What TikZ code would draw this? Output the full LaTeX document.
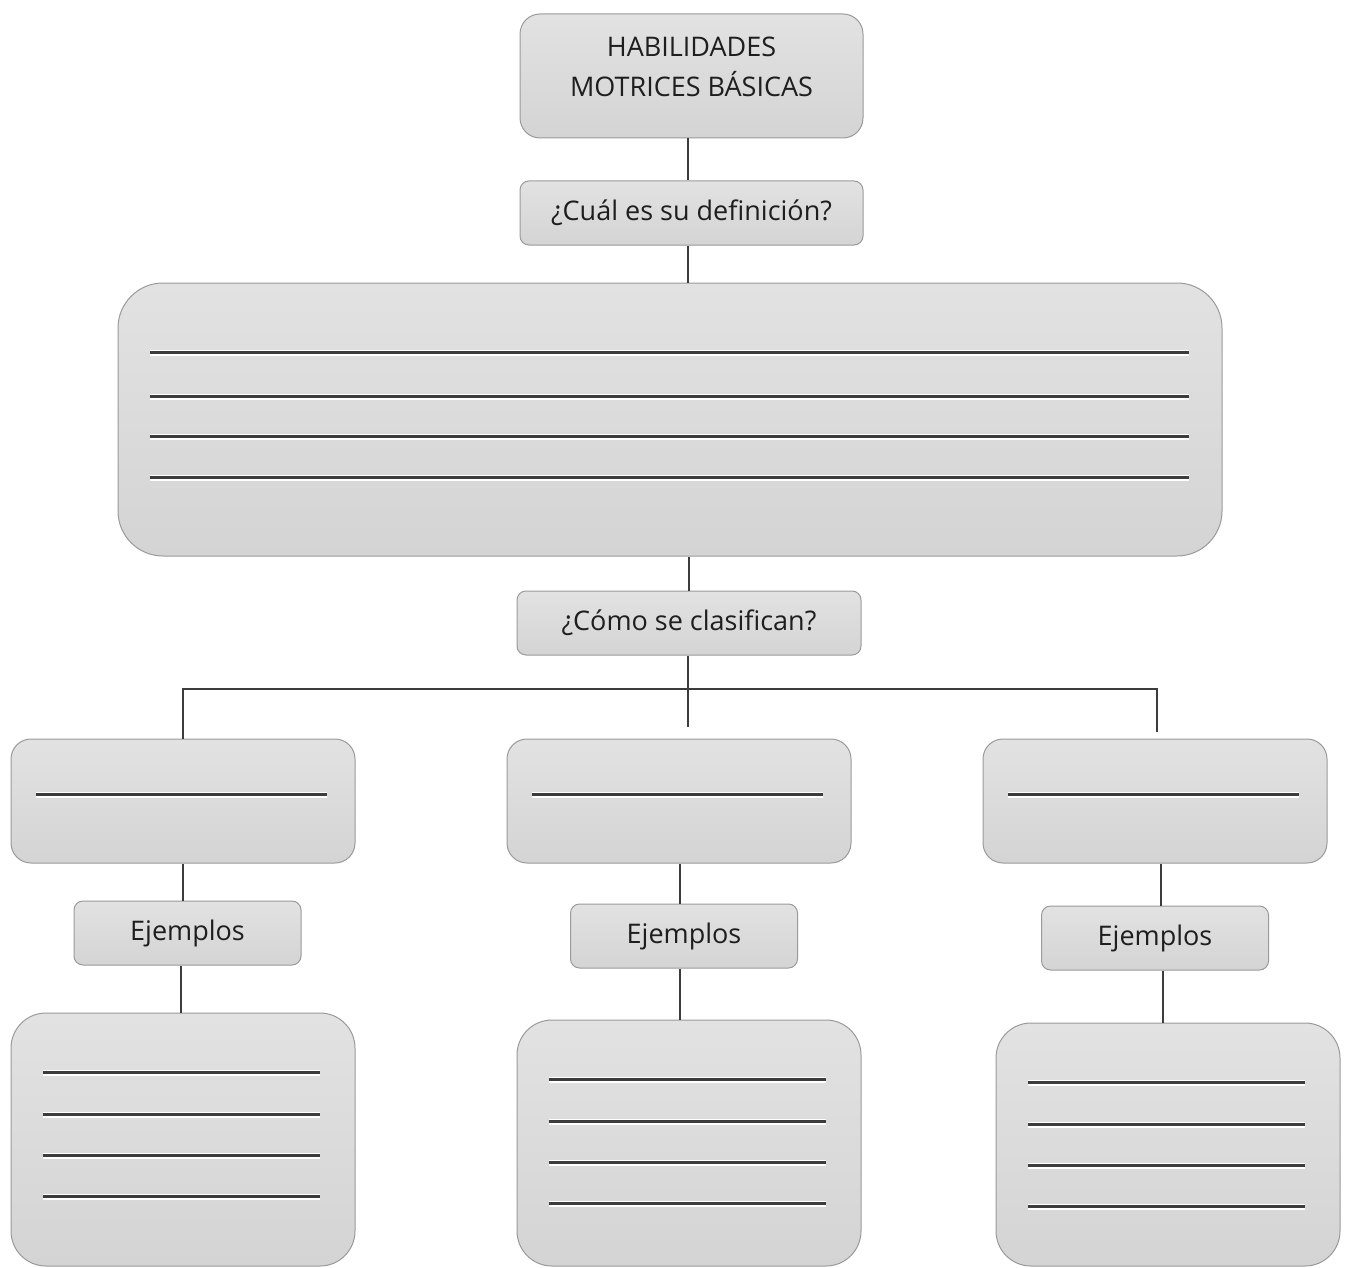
\documentclass[tikz,border=0pt]{standalone}
\usepackage{fontspec}
\setmainfont{Open Sans}

\definecolor{boxtop}{HTML}{E2E2E2}
\definecolor{boxbot}{HTML}{D4D4D4}
\definecolor{boxline}{HTML}{9A9A9A}
\definecolor{linkc}{HTML}{3C3C3C}
\definecolor{txt}{HTML}{1E1E1E}

\tikzset{
  box/.style={draw=boxline, line width=1pt, rounded corners=#1, top color=boxtop, bottom color=boxbot,
    inner sep=0pt, text=txt, align=center, font=\fontsize{27}{40}\selectfont},
  box/.default=9pt,
  link/.style={draw=linkc, line width=2pt},
  rule/.style={draw=linkc, line width=2.4pt, preaction={draw=white, line width=6pt}}
}

\begin{document}
\begin{tikzpicture}[x=1pt, y=-1pt]
	  \useasboundingbox (0,0) rectangle (1346,1268);
	  % top of the map
	  \node[box=20pt, minimum width=343pt, minimum height=124pt] (title) at (691.5,76) {\raisebox{7pt}[\height][\depth]{\begin{tabular}{@{}c@{}}HABILIDADES\\MOTRICES BÁSICAS\end{tabular}}};
	  \node[box, minimum width=343pt, minimum height=64pt] (def) at (691.5,213) {¿Cuál es su definición?};
	  \node[box=45pt, minimum width=1104pt, minimum height=273pt] (big) at (670,419.5) {};
	  \node[box, minimum width=344pt, minimum height=64pt] (clas) at (689,623) {¿Cómo se clasifican?};
	  \foreach \dy in {70,114,154,195}
	    \draw[rule] ([xshift=32pt, yshift=-\dy pt]big.north west) -- ([xshift=-34pt, yshift=-\dy pt]big.north east);
	  \draw[link] (title.south -| 688,0) -- (def.north -| 688,0);
	  \draw[link] (def.south -| 688,0) -- (big.north -| 688,0);
	  \draw[link] (clas.north) -- (clas.north |- big.south);
	  % three branches
	  \node[box=20pt, minimum width=344pt, minimum height=124pt] (catA) at (183,801) {};
	  \node[box=20pt, minimum width=344pt, minimum height=124pt] (catB) at (679,801) {};
	  \node[box=20pt, minimum width=344pt, minimum height=124pt] (catC) at (1155,801) {};
	  \coordinate (hbar) at (688,689);
	  \coordinate (midend) at (688,727);
	  \draw[link] (clas.south -| 688,0) -- (midend);
	  \draw[link] (catA.north) -- (catA.north |- hbar) -- (1157,689) -- (1157,732);
	  \node[box, minimum width=227pt, minimum height=64pt] (ejA) at (187.5,933) {Ejemplos};
	  \node[box, minimum width=227pt, minimum height=64pt] (ejB) at (684,936) {Ejemplos};
	  \node[box, minimum width=227pt, minimum height=64pt] (ejC) at (1155,938) {Ejemplos};
	  \node[box=35pt, minimum width=344pt, minimum height=253pt] (exA) at (183,1139.5) {};
	  \node[box=35pt, minimum width=344pt, minimum height=246pt] (exB) at (689,1143) {};
	  \node[box=35pt, minimum width=344pt, minimum height=243pt] (exC) at (1168,1144.5) {};
	  \foreach \c/\xa/\xb in {A/183/181, B/680/680, C/1161/1163} {
	    \draw[rule] ([xshift=25pt, yshift=-56pt]cat\c.north west) -- ([xshift=-29pt, yshift=-56pt]cat\c.north east);
	    \draw[link] (cat\c.south -| \xa,0) -- (ej\c.north -| \xa,0);
	    \draw[link] (ej\c.south -| \xb,0) -- (ex\c.north -| \xb,0);
	    \foreach \dy in {60,102,143,184}
	      \draw[rule] ([xshift=32pt, yshift=-\dy pt]ex\c.north west) -- ([xshift=-36pt, yshift=-\dy pt]ex\c.north east);
	  }
	\end{tikzpicture}
\end{document}
